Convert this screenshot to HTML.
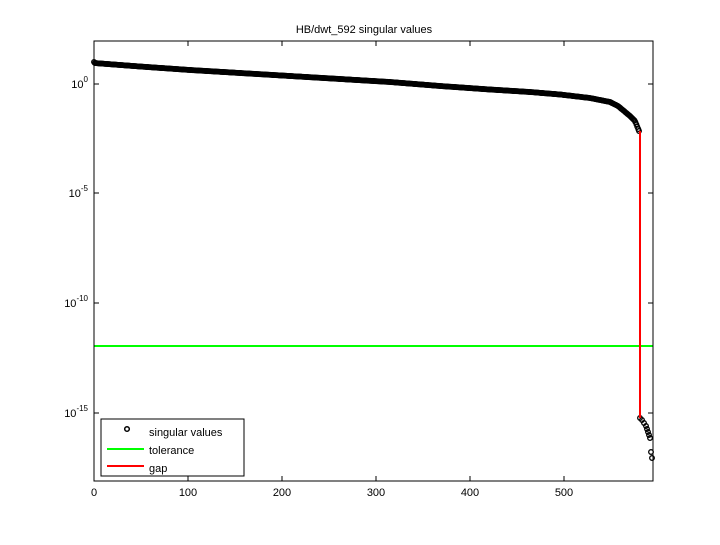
<!DOCTYPE html>
<html><head><meta charset="utf-8"><style>
body{margin:0;background:#fff}
svg text{font-family:"Liberation Sans",sans-serif;font-size:11px}
</style></head><body>
<svg id="s" width="720" height="540" xmlns="http://www.w3.org/2000/svg">
<rect x="0" y="0" width="720" height="540" fill="#fff"/>
<text x="364" y="33" text-anchor="middle" font-size="12">HB/dwt_592 singular values</text>
<g id="pts" fill="none" stroke="#000" stroke-width="1.3"></g>
<line x1="94" y1="346" x2="653" y2="346" stroke="#00ff00" stroke-width="2"/>
<line x1="640" y1="131" x2="640" y2="418" stroke="#ff0000" stroke-width="2"/>
<rect x="94" y="41" width="559" height="440" fill="none" stroke="#000" stroke-width="1"/>
<g stroke="#000" stroke-width="1" id="ticks"></g>
<g id="lbl"></g>
<rect x="101" y="419" width="143" height="57" fill="#fff" stroke="#000"/>
<circle cx="127" cy="429" r="2.3" fill="none" stroke="#000" stroke-width="1.5"/>
<text x="149" y="436">singular values</text>
<line x1="107" y1="449" x2="144" y2="449" stroke="#00ff00" stroke-width="2"/>
<text x="149" y="454">tolerance</text>
<line x1="107" y1="466" x2="144" y2="466" stroke="#ff0000" stroke-width="2"/>
<text x="149" y="472">gap</text>
</svg>
<script>
var ns="http://www.w3.org/2000/svg";
function el(p,t,a,txt){var e=document.createElementNS(ns,t);for(var k in a)e.setAttribute(k,a[k]);if(txt!==undefined)e.textContent=txt;p.appendChild(e);return e;}
var cp=[[94,63],[140,66.5],[190,70],[240,73],[290,76],[340,79],[390,82],[440,86],[490,89.5],[530,92],[560,94.5],[590,98],[610,102],[618,106],[624,111],[630,116],[635,121],[639,131]];
function fy(x){for(var i=1;i<cp.length;i++){if(x<=cp[i][0]){var a=cp[i-1],b=cp[i];return a[1]+(b[1]-a[1])*(x-a[0])/(b[0]-a[0]);}}return cp[cp.length-1][1];}
var g=document.getElementById('pts');
for(var i=1;i<=580;i++){var x=94+0.94*i;if(x>639)x=639;el(g,'circle',{cx:x.toFixed(1),cy:fy(x).toFixed(1),r:2.3});}
el(g,'circle',{cx:94,cy:62,r:2.3});
var tail=[[640,418],[642,420],[644,423],[646,426],[647,429],[648,432],[649,435],[650,438],[651,452],[652,458]];
tail.forEach(function(p){el(g,'circle',{cx:p[0],cy:p[1],r:2.3});});
var t=document.getElementById('ticks'),l=document.getElementById('lbl');
[0,100,200,300,400,500].forEach(function(v){var x=94+0.94*v;el(t,'line',{x1:x,y1:481,x2:x,y2:476});el(t,'line',{x1:x,y1:41,x2:x,y2:46});el(l,'text',{x:x,y:496,'text-anchor':'middle'},String(v));});
[[0,84],[-5,193],[-10,303],[-15,413]].forEach(function(d){var y=d[1];el(t,'line',{x1:94,y1:y,x2:99,y2:y});el(t,'line',{x1:653,y1:y,x2:648,y2:y});
var tx=el(l,'text',{x:88,y:y+4,'text-anchor':'end'});tx.textContent='10';el(tx,'tspan',{dy:-6,'font-size':'8'},String(d[0]));});
</script>
</body></html>
